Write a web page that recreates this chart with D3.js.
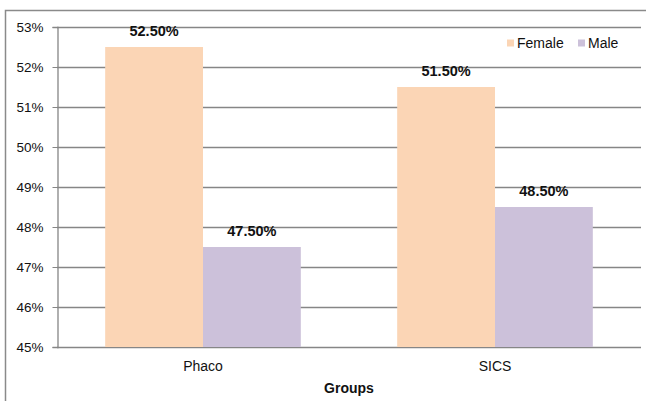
<!DOCTYPE html>
<html>
<head>
<meta charset="utf-8">
<script src="https://cdn.jsdelivr.net/npm/d3@7"></script>
<style>
  html, body { margin: 0; padding: 0; background: #fff; }
  svg { display: block; font-family: "Liberation Sans", Arial, sans-serif; }
</style>
</head>
<body>
<svg id="chart" width="646" height="401"></svg>
<script>
// Share of patients by sex in each surgery group
const groups = ["Phaco", "SICS"];
const seriesNames = ["Female", "Male"];
const femaleValues = [52.5, 51.5];
const maleValues = [47.5, 48.5];
const yTicks = [45, 46, 47, 48, 49, 50, 51, 52, 53];
const colors = ["#fbd5b5", "#ccc1da"];

const svg = d3.select("#chart");
const margin = { left: 57, right: 5, top: 27, bottom: 54 };
const W = 646, H = 401;

// outer frame (top and left edges)
svg.append("path")
  .attr("d", `M5.5,${H} V10.5 H${W}`)
  .attr("fill", "none").attr("stroke", "#8a8a8a").attr("stroke-width", 1.5);

const x0 = d3.scaleBand().domain(groups)
  .range([margin.left, W - margin.right]).paddingInner(0.33).paddingOuter(0.165);
const x1 = d3.scaleBand().domain(seriesNames).range([0, x0.bandwidth()]);
const y = d3.scaleLinear().domain([45, 53]).range([H - margin.bottom, margin.top]);

// horizontal gridlines
svg.append("g").selectAll("line").data(yTicks).join("line")
  .attr("x1", margin.left).attr("x2", W - margin.right)
  .attr("y1", d => Math.round(y(d)) + 0.5).attr("y2", d => Math.round(y(d)) + 0.5)
  .attr("stroke", "#868686").attr("stroke-width", 1.3);

// bars
const rows = groups.map((g, i) => ({ group: g, values: [femaleValues[i], maleValues[i]] }));
const gBars = svg.append("g").selectAll("g").data(rows).join("g")
  .attr("transform", d => `translate(${x0(d.group)},0)`);
gBars.selectAll("rect").data(d => d.values.map((v, j) => ({ name: seriesNames[j], v, j })))
  .join("rect")
  .attr("x", d => x1(d.name)).attr("width", x1.bandwidth())
  .attr("y", d => y(d.v)).attr("height", d => y(45) - y(d.v))
  .attr("fill", d => colors[d.j]);

// value labels
gBars.selectAll("text").data(d => d.values.map((v, j) => ({ name: seriesNames[j], v })))
  .join("text")
  .attr("x", d => x1(d.name) + x1.bandwidth() / 2)
  .attr("y", d => y(d.v) - 11)
  .attr("text-anchor", "middle")
  .attr("font-size", 14.5).attr("font-weight", "bold").attr("fill", "#111")
  .text(d => d.v.toFixed(2) + "%");

// y axis
const yAxis = d3.axisLeft(y).tickValues(yTicks).tickSize(5).tickPadding(9)
  .tickFormat(d => d + "%");
const ga = svg.append("g").attr("transform", `translate(${margin.left + 0.5},0)`).call(yAxis);
ga.select(".domain").attr("stroke", "#868686").attr("stroke-width", 1.3);
ga.selectAll(".tick line").attr("stroke", "#868686");
ga.selectAll(".tick text").attr("font-size", 13.5).attr("fill", "#111")
  .attr("font-family", "Liberation Sans, Arial, sans-serif");

// x axis
const xAxis = d3.axisBottom(x0).tickSize(0).tickPadding(14);
const gx = svg.append("g").attr("transform", `translate(0,${y(45)})`).call(xAxis);
gx.select(".domain").remove();
gx.selectAll(".tick text").attr("font-size", 14).attr("fill", "#111")
  .attr("font-family", "Liberation Sans, Arial, sans-serif");

// x axis title
svg.append("text")
  .attr("x", (margin.left + W - margin.right) / 2).attr("y", 393)
  .attr("text-anchor", "middle").attr("font-size", 14).attr("font-weight", "bold")
  .attr("fill", "#111").text("Groups");

// legend
const legendX = [507, 578];
const lg = svg.append("g").selectAll("g").data(seriesNames).join("g")
  .attr("transform", (d, i) => `translate(${legendX[i]},43)`);
lg.append("rect").attr("x", 0).attr("y", -3.5).attr("width", 7).attr("height", 7)
  .attr("fill", (d, i) => colors[i]);
lg.append("text").attr("x", 10).attr("y", 5).attr("font-size", 14).attr("fill", "#111")
  .text(d => d);
</script>
</body>
</html>
